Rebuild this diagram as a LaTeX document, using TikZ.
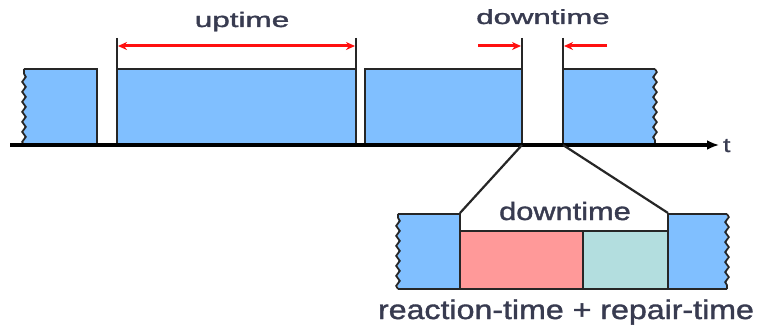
\documentclass[tikz,border=0pt]{standalone}
\usepackage{fontspec}
\setmainfont{Liberation Sans}
\newfontfamily\heavysans[FakeBold=1.3]{Liberation Sans}
\usetikzlibrary{decorations.pathmorphing,arrows.meta}
\definecolor{boxblue}{HTML}{80BFFF}
\definecolor{reactred}{HTML}{FF9999}
\definecolor{repairteal}{HTML}{B3DEDF}
\definecolor{txt}{HTML}{383B50}
\definecolor{arrred}{HTML}{FF1010}
\newcommand{\wtext}[3]{\heavysans\fontsize{#1}{#1}\selectfont\scalebox{#2}[1]{#3}}
\begin{document}
\begin{tikzpicture}[x=1pt,y=-1pt,
  edge/.style={draw=black!85,line width=2.6pt},
  wavy/.style={draw=black!85,line width=1.8pt,decorate,decoration={snake,amplitude=1.8pt,segment length=10pt}},
  bfill/.style={fill=boxblue},
  lbl/.style={text=txt,inner sep=0pt,anchor=base},
  redarrow/.style={draw=arrred,line width=3pt,-{Stealth[length=9pt,width=8pt]}}
]
\useasboundingbox[fill=white] (0,0) rectangle (760,331);

% ---- top row boxes ----
\fill[bfill] (24,69) rectangle (97,145);
\draw[edge] (24,69) -- (97,69) -- (97,145);
\draw[wavy] (24,145) -- (24,69);

\fill[bfill] (117,69) rectangle (356,145);
\draw[edge] (117,69) -- (356,69);
\draw[edge] (117,38) -- (117,145);
\draw[edge] (356,38) -- (356,145);

\fill[bfill] (365,69) rectangle (522,145);
\draw[edge] (365,145) -- (365,69) -- (522,69);
\draw[edge] (522,38) -- (522,145);

\fill[bfill] (563,69) rectangle (655,145);
\draw[edge] (563,38) -- (563,145);
\draw[edge] (563,69) -- (655,69);
\draw[wavy] (655,69) -- (655,145);

% ---- axis ----
\coordinate (axstart) at (10,145);
\coordinate (axend) at (719,145);
\draw[line width=3.5pt,-{Latex[length=12pt,width=10pt]}] (axstart) -- (axend);
\node[lbl,anchor=base west] (tlab) at (723,152) {\wtext{20}{1.3}{t}};

% ---- measurement arrows ----
\coordinate (upL) at (118,46);
\coordinate (upR) at (355,46);
\draw[draw=arrred,line width=3pt,{Stealth[length=9pt,width=8pt]}-{Stealth[length=9pt,width=8pt]}] (upL) -- (upR);
\node[lbl] (uptime) at (242,27) {\wtext{21}{1.5}{uptime}};

\coordinate (dlS) at (478,46);
\coordinate (dlE) at (521,46);
\coordinate (drS) at (607,46);
\coordinate (drE) at (564,46);
\draw[redarrow] (dlS) -- (dlE);
\draw[redarrow] (drS) -- (drE);
\node[lbl] (downtop) at (543,24) {\wtext{20.5}{1.52}{downtime}};

% ---- zoom connectors ----
\coordinate (gapL) at (522,145);
\coordinate (gapR) at (563,145);
\coordinate (detL) at (460,213);
\coordinate (detR) at (668,213);
\draw[draw=black!85,line width=2.2pt] (gapL) -- (detL);
\draw[draw=black!85,line width=2.2pt] (gapR) -- (detR);

% ---- detail row ----
\fill[bfill] (398,214) rectangle (460,289);
\draw[edge] (398,214) -- (460,214);
\draw[edge] (398,289) -- (460,289);
\draw[wavy] (398,289) -- (398,214);

\draw[edge,fill=reactred] (460,231) rectangle (583,289);
\draw[edge,fill=repairteal] (583,231) rectangle (668,289);

\fill[bfill] (668,214) rectangle (727,289);
\draw[edge] (668,214) -- (727,214);
\draw[edge] (668,289) -- (727,289);
\draw[wavy] (727,214) -- (727,289);

\draw[edge] (detL) -- (460,289);
\draw[edge] (detR) -- (668,289);

\node[lbl] (downbot) at (565,220) {\wtext{25}{1.23}{downtime}};
\node[lbl] (rr) at (566,319) {\wtext{27}{1.19}{reaction-time + repair-time}};
\end{tikzpicture}
\end{document}
